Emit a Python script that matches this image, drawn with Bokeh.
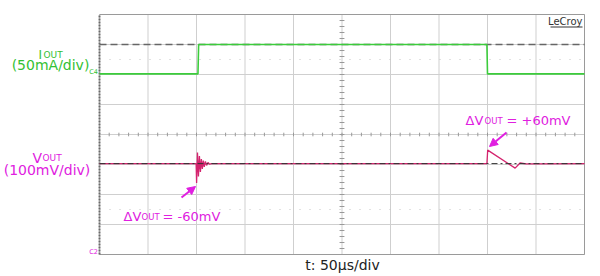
import numpy as np
from bokeh.plotting import figure
from bokeh.models import Range1d, Label, Arrow, NormalHead
from bokeh.embed import file_html
from bokeh.resources import INLINE

# ---- data (time in µs, vertical in screen divisions) ----
time_per_div = 50
x_divs = 10
y_divs = 8

iout_t = [0, 101.5, 102.2, 399.4, 400.0, 500]
iout_div = [2.02, 2.02, 3.0, 3.0, 2.02, 2.02]

vout_t = [0, 99.6, 100.1, 101.0, 102.0, 103.0, 104.0, 105.0, 106.0, 107.0, 108.0,
          109.2, 110.4, 111.8, 113.5, 115.5,
          399.4, 400.2, 428.5, 433.5, 440.0, 500]
vout_div = [-0.97, -0.97, -1.62, -0.60, -1.40, -0.72, -1.25, -0.82, -1.15, -0.87, -1.08,
            -0.90, -1.03, -0.93, -0.99, -0.97,
            -0.97, -0.52, -1.12, -0.95, -0.98, -0.97]

iout_ref = 3.0
vout_ref = -0.97

GREEN = "#3ccc3c"
GREEN_TXT = "#33c133"
MAG_TRACE = "#d4246e"
MAG_TXT = "#e020e0"
FONT = "DejaVu Sans"

T_END = time_per_div * x_divs
Y_TOP = y_divs / 2
Y_BOT = -y_divs / 2

# screen placement of the scope area: 99..584 px wide, 14..254 px tall
def px2t(px):
    return (px - 99) / 0.97

def py2d(py):
    return (134 - py) / 30

p = figure(width=600, height=276, output_backend="svg", toolbar_location=None,
           x_range=Range1d(px2t(0), px2t(600)),
           y_range=Range1d(py2d(276), py2d(0)),
           min_border_left=0, min_border_right=0, min_border_top=0, min_border_bottom=0)
p.xaxis.visible = False
p.yaxis.visible = False
p.xgrid.visible = False
p.ygrid.visible = False
p.outline_line_color = None
p.background_fill_color = "white"
p.border_fill_color = "white"

# grid
gx = np.arange(0, T_END + 1, time_per_div)
p.segment(x0=gx, y0=Y_BOT, x1=gx, y1=Y_TOP, line_color="#cfcfcf", line_width=1)
gy = np.arange(Y_BOT, Y_TOP + 0.01, 1)
p.segment(x0=0, y0=gy, x1=T_END, y1=gy, line_color="#cfcfcf", line_width=1)

# faint dotted reference rows
p.segment(x0=0, y0=[2.5, -2.5], x1=T_END, y1=[2.5, -2.5], line_color="#c4c4c4",
          line_width=1, line_dash="1 9")

# minor ticks on centre lines
xt = np.arange(0, T_END + 1, time_per_div / 5)
p.segment(x0=xt, y0=-0.06, x1=xt, y1=0.06, line_color="#999999", line_width=1)
yt = np.arange(Y_BOT, Y_TOP + 0.01, 0.2)
p.segment(x0=T_END / 2 - 2.5, y0=yt, x1=T_END / 2 + 2.5, y1=yt, line_color="#999999", line_width=1)

# frame border
p.segment(x0=[0, 0, T_END], y0=[Y_TOP, Y_BOT, Y_BOT], x1=[T_END, T_END, T_END],
          y1=[Y_TOP, Y_BOT, Y_TOP], line_color="#9a9a9a", line_width=1)
p.segment(x0=0, y0=Y_BOT, x1=0, y1=Y_TOP, line_color="#6a6a6a", line_width=2, line_dash="2 1")

# reference dashed line (current high level)
p.line([0, T_END], [iout_ref, iout_ref], line_color="#666666", line_width=1.6, line_dash="7 4")

# traces
p.line(iout_t, iout_div, line_color=GREEN, line_width=1.6)
p.line(vout_t, vout_div, line_color=MAG_TRACE, line_width=1.3)
p.line([0, T_END], [vout_ref, vout_ref], line_color="#333333", line_width=1, line_dash="6 3 2 3")


def lab(px, py, text, size, color, align="left", baseline="alphabetic"):
    p.add_layout(Label(x=px2t(px), y=py2d(py), text=text, text_font=FONT,
                       text_font_size=f"{size}px", text_color=color,
                       text_align=align, text_baseline=baseline))

# channel labels
lab(38, 54, "I", 12, GREEN_TXT)
lab(43, 54, "OUT", 9, GREEN_TXT)
lab(50, 64, "(50mA/div)", 14, GREEN_TXT, align="center", baseline="middle")
lab(32, 157, "V", 14, MAG_TXT)
lab(42, 157, "OUT", 9, MAG_TXT)
lab(46.5, 169, "(100mV/div)", 14, MAG_TXT, align="center", baseline="middle")

lab(97.5, 71, "C4", 6.5, GREEN_TXT, align="right", baseline="middle")
lab(97.5, 251, "C2", 6.5, MAG_TXT, align="right", baseline="middle")

# annotations
lab(123, 216, "ΔV", 13, MAG_TXT)
lab(141, 216, "OUT", 8.5, MAG_TXT)
lab(162, 216, "= -60mV", 13, MAG_TXT)
lab(465, 120, "ΔV", 13, MAG_TXT)
lab(484, 120, "OUT", 8.5, MAG_TXT)
lab(506, 120, "= +60mV", 13, MAG_TXT)

p.add_layout(Arrow(x_start=px2t(181), y_start=py2d(197), x_end=px2t(195), y_end=py2d(186),
                   line_color=MAG_TXT, line_width=2,
                   end=NormalHead(size=8, fill_color=MAG_TXT, line_color=MAG_TXT)))
p.add_layout(Arrow(x_start=px2t(506), y_start=py2d(132), x_end=px2t(489), y_end=py2d(146),
                   line_color=MAG_TXT, line_width=2,
                   end=NormalHead(size=8, fill_color=MAG_TXT, line_color=MAG_TXT)))

lab(342, 264, "t: 50µs/div", 14, "#222222", align="center", baseline="middle")
lab(582, 21, "LeCroy", 10, "#333333", align="right", baseline="middle")
p.segment(x0=px2t(550), y0=py2d(26.5), x1=px2t(582), y1=py2d(26.5), line_color="#333333", line_width=1)

open("out.html", "w").write(file_html(p, INLINE))
